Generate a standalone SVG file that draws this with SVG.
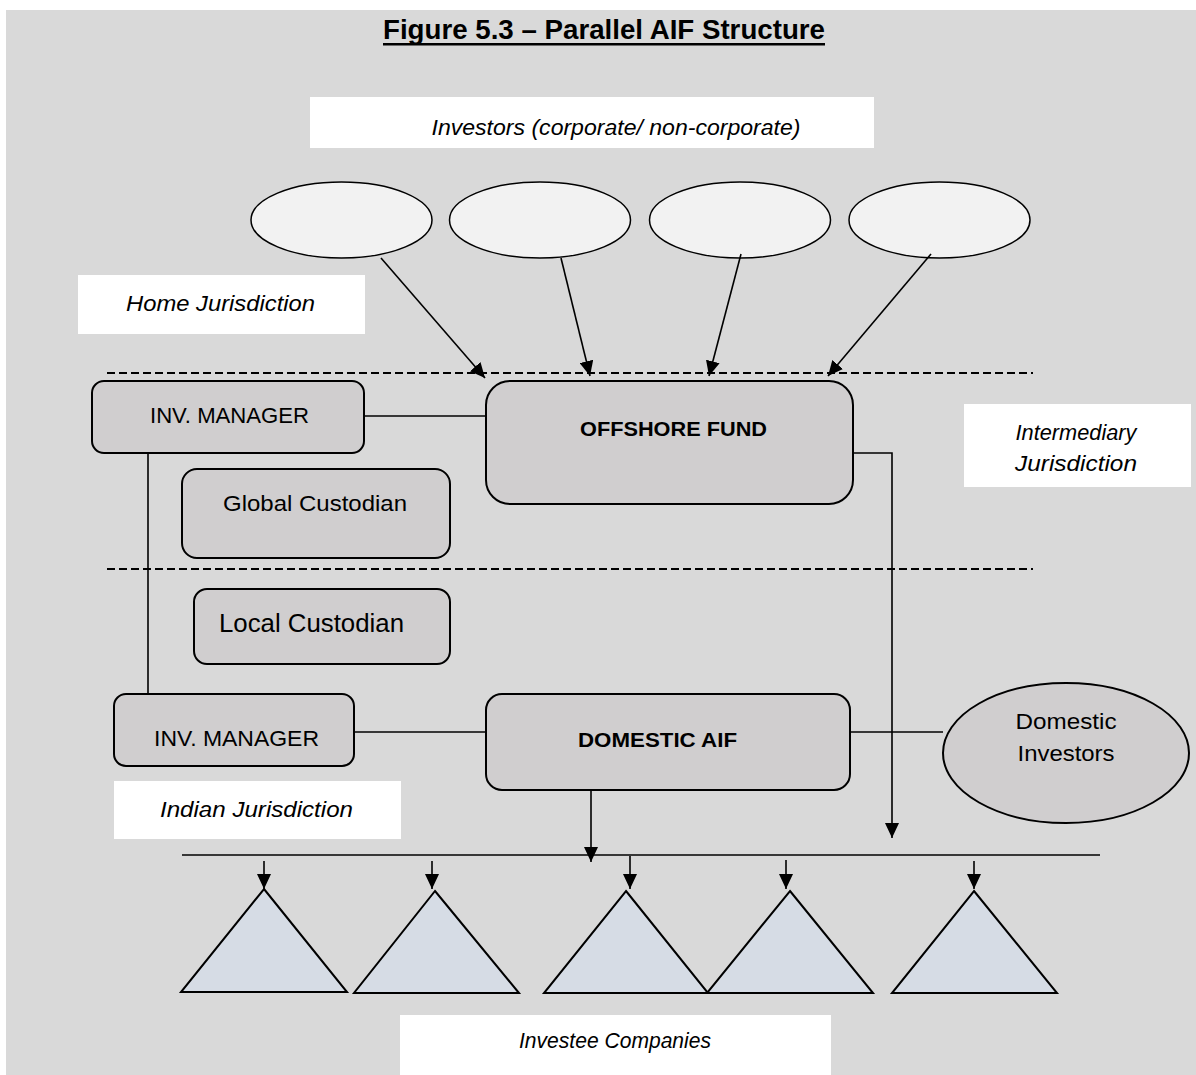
<svg xmlns="http://www.w3.org/2000/svg" width="1196" height="1075" viewBox="0 0 1196 1075">
<defs>
<marker id="ah" markerUnits="userSpaceOnUse" markerWidth="15" markerHeight="14" viewBox="0 0 15 14" refX="15" refY="7" orient="auto">
<path d="M0,0 L15,7 L0,14 z" fill="#000"/>
</marker>
<style>
.box{fill:#d0cecf;stroke:#000;stroke-width:2}
.lbl{fill:#fff}
.top{fill:#f2f2f2;stroke:#000;stroke-width:1.5}
.tri{fill:#d6dce5;stroke:#000;stroke-width:2}
.ln{fill:none;stroke:#000;stroke-width:1.6}
.ar{fill:none;stroke:#000;stroke-width:1.6;marker-end:url(#ah)}
.dash{fill:none;stroke:#000;stroke-width:2;stroke-dasharray:8 4}
text{font-family:"Liberation Sans",Arial,sans-serif;fill:#000;text-anchor:middle}
.it{font-style:italic;font-size:22px}
.n{font-size:22px}
.b{font-weight:bold;font-size:21px}
</style>
</defs>
<rect x="6" y="10" width="1190" height="1065" fill="#d9d9d9"/>
<g id="title">
<text x="604" y="39" font-size="27" font-weight="bold" textLength="442" lengthAdjust="spacingAndGlyphs">Figure 5.3 – Parallel AIF Structure</text>
<rect x="383" y="43" width="442" height="2.5" fill="#000"/>
</g>
<g id="investors-label">
<rect class="lbl" x="310" y="97" width="564" height="51"/>
<text class="it" x="616" y="135" textLength="369" lengthAdjust="spacingAndGlyphs">Investors (corporate/ non-corporate)</text>
</g>
<g id="investor1"><ellipse class="top" cx="341.5" cy="220" rx="90.5" ry="38"/></g>
<g id="investor2"><ellipse class="top" cx="540" cy="220" rx="90.5" ry="38"/></g>
<g id="investor3"><ellipse class="top" cx="740" cy="220" rx="90.5" ry="38"/></g>
<g id="investor4"><ellipse class="top" cx="939.5" cy="220" rx="90.5" ry="38"/></g>
<g id="home-label">
<rect class="lbl" x="78" y="275" width="287" height="59"/>
<text class="it" x="220.5" y="311" textLength="189" lengthAdjust="spacingAndGlyphs">Home Jurisdiction</text>
</g>
<g id="boundaries">
<line class="dash" x1="107" y1="373" x2="1033" y2="373"/>
<line class="dash" x1="107" y1="569" x2="1033" y2="569"/>
</g>
<g id="connectors">
<line class="ar" x1="381" y1="258" x2="485" y2="378"/>
<line class="ar" x1="561" y1="258" x2="590" y2="376"/>
<line class="ar" x1="741" y1="254" x2="709" y2="376"/>
<line class="ar" x1="931" y1="254" x2="828" y2="376"/>
<line class="ln" x1="364" y1="416" x2="486" y2="416"/>
<line class="ln" x1="148" y1="453" x2="148" y2="694"/>
<polyline class="ar" points="846,453 892,453 892,838"/>
<line class="ln" x1="354" y1="732" x2="486" y2="732"/>
<line class="ln" x1="847" y1="732" x2="943" y2="732"/>
<line class="ln" x1="182" y1="855" x2="1100" y2="855"/>
<line class="ar" x1="591" y1="790" x2="591" y2="862"/>
<line class="ar" x1="264" y1="861" x2="264" y2="889"/>
<line class="ar" x1="432" y1="861" x2="432" y2="889"/>
<line class="ar" x1="630" y1="856" x2="630" y2="889"/>
<line class="ar" x1="786" y1="860" x2="786" y2="889"/>
<line class="ar" x1="974" y1="861" x2="974" y2="889"/>
</g>
<g id="inv-manager-offshore">
<rect class="box" x="92" y="381" width="272" height="72" rx="12"/>
<text class="n" x="229.5" y="423" textLength="159" lengthAdjust="spacingAndGlyphs">INV. MANAGER</text>
</g>
<g id="offshore-fund">
<rect class="box" x="486" y="381" width="367" height="123" rx="24"/>
<text class="b" x="673.5" y="436" textLength="187" lengthAdjust="spacingAndGlyphs">OFFSHORE FUND</text>
</g>
<g id="intermediary-label">
<rect class="lbl" x="964" y="404" width="227" height="83"/>
<text class="it" x="1076" y="440" textLength="121" lengthAdjust="spacingAndGlyphs">Intermediary</text>
<text class="it" x="1076" y="471" textLength="122" lengthAdjust="spacingAndGlyphs">Jurisdiction</text>
</g>
<g id="global-custodian">
<rect class="box" x="182" y="469" width="268" height="89" rx="15"/>
<text class="n" x="315" y="511" textLength="184" lengthAdjust="spacingAndGlyphs">Global Custodian</text>
</g>
<g id="local-custodian">
<rect class="box" x="194" y="589" width="256" height="75" rx="13"/>
<text x="311.5" y="632" font-size="25" textLength="185" lengthAdjust="spacingAndGlyphs">Local Custodian</text>
</g>
<g id="inv-manager-domestic">
<rect class="box" x="114" y="694" width="240" height="72" rx="12"/>
<text class="n" x="236.5" y="746" textLength="165" lengthAdjust="spacingAndGlyphs">INV. MANAGER</text>
</g>
<g id="domestic-aif">
<rect class="box" x="486" y="694" width="364" height="96" rx="16"/>
<text class="b" x="657.5" y="747" textLength="159" lengthAdjust="spacingAndGlyphs">DOMESTIC AIF</text>
</g>
<g id="domestic-investors">
<ellipse class="box" cx="1066" cy="753" rx="123" ry="70" stroke-width="1.6"/>
<text class="n" x="1066" y="729" textLength="101" lengthAdjust="spacingAndGlyphs">Domestic</text>
<text class="n" x="1066" y="761" textLength="97" lengthAdjust="spacingAndGlyphs">Investors</text>
</g>
<g id="indian-label">
<rect class="lbl" x="114" y="781" width="287" height="58"/>
<text class="it" x="256.5" y="817" textLength="193" lengthAdjust="spacingAndGlyphs">Indian Jurisdiction</text>
</g>
<g id="company1"><polygon class="tri" points="264,889 347,992 181,992"/></g>
<g id="company2"><polygon class="tri" points="435,891 519,993 354,993"/></g>
<g id="company3"><polygon class="tri" points="626,891 708,993 544,993"/></g>
<g id="company4"><polygon class="tri" points="790,891 873,993 707,993"/></g>
<g id="company5"><polygon class="tri" points="974,891 1057,993 892,993"/></g>
<g id="investee-label">
<rect class="lbl" x="400" y="1015" width="431" height="60"/>
<text class="it" x="615" y="1048" textLength="192" lengthAdjust="spacingAndGlyphs">Investee Companies</text>
</g>
</svg>
